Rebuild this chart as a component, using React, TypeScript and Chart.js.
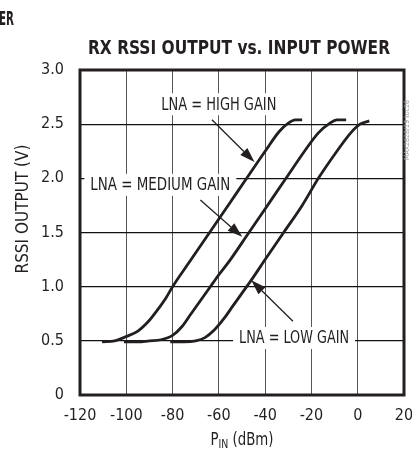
import React, { useEffect, useRef } from 'react';
import { Chart, registerables } from 'chart.js';

Chart.register(...registerables);

const TITLE = 'RX RSSI OUTPUT vs. INPUT POWER';
const CUT_TITLE = 'ER';
const SIDE_CODE = 'MAX2828/29 toc26';
const Y_TITLE = 'RSSI OUTPUT (V)';
const X_TITLE_MAIN = 'P';
const X_TITLE_SUB = 'IN';
const X_TITLE_REST = ' (dBm)';

const X_TICKS = [-120, -100, -80, -60, -40, -20, 0, 20];
const Y_TICKS = [0, 0.5, 1.0, 1.5, 2.0, 2.5, 3.0];
const Y_TICK_LABELS = ['0', '0.5', '1.0', '1.5', '2.0', '2.5', '3.0'];

const highX = [-110.5, -105, -100, -95, -90, -86, -83, -80, -72, -64, -56, -48, -40, -34, -30, -27, -24];
const highY = [0.49, 0.5, 0.54, 0.59, 0.69, 0.8, 0.89, 1.0, 1.25, 1.5, 1.75, 2.0, 2.25, 2.43, 2.51, 2.54, 2.54];

const medX = [-101, -95, -90, -85, -80, -76, -72, -68, -64, -60, -55, -47, -39, -31, -23, -17, -12, -9, -5];
const medY = [0.49, 0.49, 0.5, 0.51, 0.55, 0.63, 0.75, 0.87, 0.99, 1.11, 1.25, 1.5, 1.75, 2.0, 2.25, 2.42, 2.51, 2.54, 2.54];

const lowX = [-81, -75, -70, -66, -62, -58, -54, -50, -46, -40, -32, -24, -17, -9, -3, 1, 5];
const lowY = [0.49, 0.49, 0.5, 0.53, 0.6, 0.7, 0.82, 0.94, 1.06, 1.25, 1.5, 1.75, 2.0, 2.25, 2.42, 2.5, 2.53];

const LABELS = ['LNA = HIGH GAIN', 'LNA = MEDIUM GAIN', 'LNA = LOW GAIN'];
const labelX = [-60, -85.3, -27.5];
const labelY = [2.684, 1.94, 0.526];
const arrowFromX = [-63, -68, -28];
const arrowFromY = [2.54, 1.8, 0.68];
const arrowToX = [-44.6, -49.9, -46];
const arrowToY = [2.15, 1.46, 1.06];

const FONT = '"DejaVu Sans Condensed", "Liberation Sans", Arial, sans-serif';
const INK = '#231f20';

// target widths (px) of text as it appears in the reference print
const LABEL_WIDTHS = [115, 140, 110];
const TITLE_WIDTH = 302;
const CUT_WIDTH = 15;
const X_TITLE_WIDTH = 63;

const zip = (xs: number[], ys: number[]) => xs.map((x, i) => ({ x, y: ys[i] }));

function fitText(ctx: any, text: string, x: number, y: number, target: number) {
  const w = ctx.measureText(text).width;
  const s = target / w;
  ctx.save();
  ctx.translate(x, y);
  ctx.scale(s, 1);
  ctx.fillText(text, 0, 0);
  ctx.restore();
}

const decorPlugin = {
  id: 'decor',
  beforeDatasetsDraw(chart: any) {
    const { ctx, scales } = chart;
    const xs = scales.x;
    const ys = scales.y;
    ctx.save();
    ctx.font = `17px ${FONT}`;
    ctx.textAlign = 'center';
    ctx.textBaseline = 'middle';
    LABELS.forEach((t, i) => {
      const cx = xs.getPixelForValue(labelX[i]);
      const cy = ys.getPixelForValue(labelY[i]);
      const w = LABEL_WIDTHS[i];
      ctx.fillStyle = '#ffffff';
      ctx.fillRect(cx - w / 2 - 6, cy - 11, w + 12, 22);
      ctx.fillStyle = INK;
      fitText(ctx, t, cx, cy + 1, w);
    });
    ctx.restore();
  },
  afterDatasetsDraw(chart: any) {
    const { ctx, scales } = chart;
    const xs = scales.x;
    const ys = scales.y;
    ctx.save();
    ctx.strokeStyle = INK;
    ctx.fillStyle = INK;
    ctx.lineWidth = 1.3;
    arrowFromX.forEach((_, i) => {
      const x1 = xs.getPixelForValue(arrowFromX[i]);
      const y1 = ys.getPixelForValue(arrowFromY[i]);
      const x2 = xs.getPixelForValue(arrowToX[i]);
      const y2 = ys.getPixelForValue(arrowToY[i]);
      const ang = Math.atan2(y2 - y1, x2 - x1);
      const hl = 15;
      const hw = 5;
      const bx = x2 - hl * Math.cos(ang);
      const by = y2 - hl * Math.sin(ang);
      ctx.beginPath();
      ctx.moveTo(x1, y1);
      ctx.lineTo(bx, by);
      ctx.stroke();
      ctx.beginPath();
      ctx.moveTo(x2, y2);
      ctx.lineTo(bx + hw * Math.sin(ang), by - hw * Math.cos(ang));
      ctx.lineTo(bx - hw * Math.sin(ang), by + hw * Math.cos(ang));
      ctx.closePath();
      ctx.fill();
    });
    ctx.restore();
  },
  afterDraw(chart: any) {
    const { ctx, chartArea } = chart;
    const { left, right, top, bottom } = chartArea;
    ctx.save();
    // frame
    ctx.strokeStyle = INK;
    ctx.lineWidth = 3;
    ctx.strokeRect(left, top, right - left, bottom - top);
    // title
    ctx.fillStyle = INK;
    ctx.font = `bold 19px ${FONT}`;
    ctx.textBaseline = 'alphabetic';
    ctx.textAlign = 'center';
    fitText(ctx, TITLE, 239, 54, TITLE_WIDTH);
    ctx.textAlign = 'left';
    fitText(ctx, CUT_TITLE, -1, 25, CUT_WIDTH);
    // y title
    ctx.font = `17px ${FONT}`;
    ctx.save();
    ctx.translate(28, 209);
    ctx.rotate(-Math.PI / 2);
    ctx.textAlign = 'center';
    ctx.textBaseline = 'alphabetic';
    ctx.fillText(Y_TITLE, 0, 0);
    ctx.restore();
    // x title with subscript
    const mainF = `17px ${FONT}`;
    const subF = `12px ${FONT}`;
    ctx.font = mainF;
    const w1 = ctx.measureText(X_TITLE_MAIN).width;
    const w3 = ctx.measureText(X_TITLE_REST).width;
    ctx.font = subF;
    const w2 = ctx.measureText(X_TITLE_SUB).width;
    const total = w1 + w2 + w3;
    const s = X_TITLE_WIDTH / total;
    const base = 445;
    ctx.save();
    ctx.translate(242 - X_TITLE_WIDTH / 2, base);
    ctx.scale(s, 1);
    ctx.textAlign = 'left';
    let x0 = 0;
    ctx.font = mainF;
    ctx.fillText(X_TITLE_MAIN, x0, 0);
    x0 += w1;
    ctx.font = subF;
    ctx.fillText(X_TITLE_SUB, x0, 3);
    x0 += w2;
    ctx.font = mainF;
    ctx.fillText(X_TITLE_REST, x0, 0);
    ctx.restore();
    // side code
    ctx.save();
    ctx.fillStyle = '#9a9a9a';
    ctx.font = `7px ${FONT}`;
    ctx.translate(411, 160);
    ctx.rotate(-Math.PI / 2);
    ctx.textAlign = 'left';
    ctx.textBaseline = 'bottom';
    ctx.fillText(SIDE_CODE, 0, 0);
    ctx.restore();
    ctx.restore();
  },
};

export default function App() {
  const ref = useRef<HTMLCanvasElement | null>(null);
  useEffect(() => {
    if (!ref.current) return;
    const lineStyle = {
      borderColor: INK,
      borderWidth: 2.8,
      pointRadius: 0,
      fill: false,
      cubicInterpolationMode: 'monotone' as const,
    };
    const chart = new Chart(ref.current, {
      type: 'line',
      data: {
        datasets: [
          { label: LABELS[0], data: zip(highX, highY), ...lineStyle },
          { label: LABELS[1], data: zip(medX, medY), ...lineStyle },
          { label: LABELS[2], data: zip(lowX, lowY), ...lineStyle },
        ],
      },
      options: {
        animation: false,
        responsive: false,
        maintainAspectRatio: false,
        layout: { padding: { left: 0, top: 70, right: 8, bottom: 0 } },
        plugins: {
          legend: { display: false },
          title: { display: false },
          tooltip: { enabled: false },
        },
        scales: {
          x: {
            type: 'linear',
            min: -120,
            max: 20,
            afterBuildTicks: (s: any) => {
              s.ticks = X_TICKS.map((v) => ({ value: v }));
            },
            afterFit: (s: any) => {
              s.height = 58;
              s.paddingLeft = 0;
              s.paddingRight = 0;
            },
            grid: { color: '#555', lineWidth: 1, drawTicks: false },
            border: { display: false },
            ticks: {
              padding: 11,
              color: INK,
              font: { family: FONT, size: 16 },
              maxRotation: 0,
              autoSkip: false,
              callback: (v: any) => String(v),
            },
          },
          y: {
            type: 'linear',
            min: 0,
            max: 3,
            afterBuildTicks: (s: any) => {
              s.ticks = Y_TICKS.map((v) => ({ value: v }));
            },
            afterFit: (s: any) => {
              s.width = 80;
              s.paddingTop = 0;
              s.paddingBottom = 0;
            },
            grid: { color: '#111', lineWidth: 1.2, drawTicks: false },
            border: { display: false },
            ticks: {
              padding: 16,
              color: INK,
              font: { family: FONT, size: 16 },
              autoSkip: false,
              callback: (_v: any, i: number) => Y_TICK_LABELS[i],
            },
          },
        },
      },
      plugins: [decorPlugin],
    });
    return () => chart.destroy();
  }, []);
  return (
    <div style={{ position: 'fixed', left: 0, top: 0, width: 412, height: 453, background: '#fff' }}>
      <canvas ref={ref} width={412} height={453} style={{ display: 'block', width: 412, height: 453 }} />
    </div>
  );
}
